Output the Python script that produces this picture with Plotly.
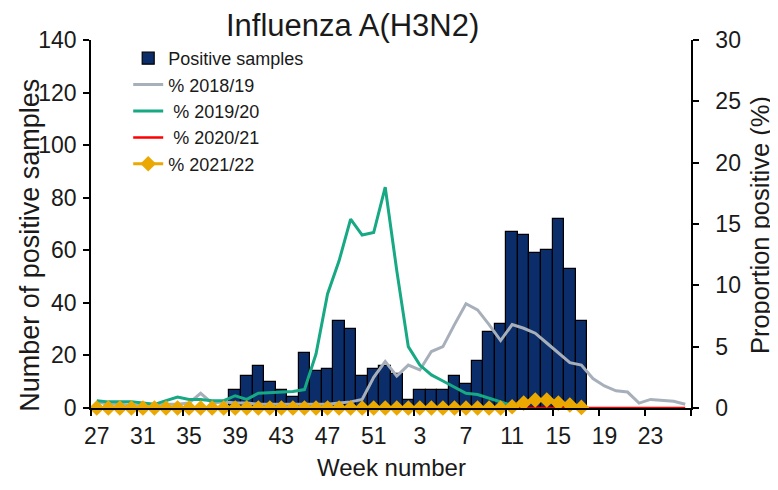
import plotly.graph_objects as go

# ---------------- data ----------------
weeks = list(range(27, 53)) + list(range(1, 27))
week_labels = [str(w) for w in weeks]

positive_samples = [0] * 12 + [
    7, 12, 16, 10, 7, 4, 21, 14, 15, 33, 30, 12, 15, 16,          # w39-w52
    13, 3, 7, 7, 7, 12, 9, 18, 29, 32, 67, 66, 59, 60, 72, 53, 33  # w1-w17
] + [None] * 9

pct_2018_19 = [
    0.5, 0.3, 0.3, 0.2, 0.2, 0.2, 0.3, 0.3, 0.4, 1.2, 0.4, 0.5, 0.4,
    0.4, 0.3, 0.3, 0.3, 0.3, 0.3, 0.3, 0.3, 0.4, 0.5, 0.7, 2.5, 3.8,
    2.6, 3.5, 3.1, 4.6, 5.0, 6.8, 8.5, 8.0, 6.8, 5.5, 6.8, 6.5, 6.1,
    5.3, 4.5, 3.7, 3.5, 2.4, 1.8, 1.4, 1.3, 0.4, 0.7, 0.6, 0.55, 0.3,
]

pct_2019_20 = [
    0.6, 0.5, 0.5, 0.5, 0.4, 0.3, 0.6, 0.9, 0.7, 0.7, 0.6, 0.6, 1.0,
    0.7, 1.2, 1.25, 1.3, 1.35, 1.5, 4.4, 9.3, 12.0, 15.4, 14.1, 14.3, 18.0,
    11.2, 5.0, 3.5, 2.7, 2.2, 1.7, 1.2, 1.1, 0.8, 0.5, 0.2,
] + [None] * 15

pct_2020_21 = [0.0] * 52

pct_2021_22 = [0.0] * 36 + [0.1, 0.4, 0.65, 0.65, 0.4, 0.25, 0.05] + [None] * 9

x_tick_step = 4
left_ticks = [0, 20, 40, 60, 80, 100, 120, 140]
right_ticks = [0, 5, 10, 15, 20, 25, 30]

# ---------------- figure ----------------
pos = list(range(len(weeks)))
FONT = "Liberation Sans, Arial, sans-serif"
TXT = "#1a1a1a"

fig = go.Figure()
fig.add_trace(go.Bar(
    x=pos, y=positive_samples, name="Positive samples",
    marker=dict(color="#0b2d69", line=dict(color="#000000", width=1.2)),
    yaxis="y",
))
fig.add_trace(go.Scatter(
    x=pos, y=pct_2018_19, name="% 2018/19", mode="lines",
    line=dict(color="#a7b0ba", width=3), yaxis="y2", cliponaxis=False,
))
fig.add_trace(go.Scatter(
    x=pos, y=pct_2019_20, name="\u00a0% 2019/20", mode="lines",
    line=dict(color="#17a884", width=3), yaxis="y2", cliponaxis=False,
))
fig.add_trace(go.Scatter(
    x=pos, y=pct_2020_21, name="\u00a0% 2020/21", mode="lines",
    line=dict(color="#ff0000", width=2.5), yaxis="y2", cliponaxis=False,
))
fig.add_trace(go.Scatter(
    x=pos, y=pct_2021_22, name="% 2021/22", mode="lines+markers",
    line=dict(color="#eaa800", width=3),
    marker=dict(symbol="diamond", size=12, color="#eaa800"),
    yaxis="y2", cliponaxis=False,
))

fig.update_layout(
    width=778, height=490,
    margin=dict(l=83, r=95, t=32, b=90),
    paper_bgcolor="white", plot_bgcolor="white",
    font=dict(family=FONT, color=TXT, size=23),
    bargap=0,
    showlegend=True,
    title=dict(text="Influenza A(H3N2)", x=0.443, xanchor="center",
               y=0.966, yanchor="middle", font=dict(size=31, family=FONT)),
    legend=dict(x=0.062, y=1.0, xanchor="left", yanchor="top",
                bgcolor="rgba(0,0,0,0)", font=dict(size=18, family=FONT),
                itemwidth=30, traceorder="normal"),
    xaxis=dict(
        range=[-0.5, len(weeks) - 0.5], automargin=False,
        tickmode="array", tickvals=pos[::x_tick_step],
        ticktext=week_labels[::x_tick_step],
        ticks="", showline=True, linecolor="black", linewidth=1.5,
        showgrid=False, zeroline=False,
        minor=dict(tickmode="linear", tick0=-0.5, dtick=x_tick_step,
                   ticks="outside", ticklen=6, tickcolor="black", tickwidth=1.5),
        tickfont=dict(size=23), ticklabelstandoff=7,
    ),
    yaxis=dict(
        range=[0, 140], tickmode="array", tickvals=left_ticks, automargin=False,
        ticks="outside", ticklen=6, tickcolor="black", tickwidth=1.5,
        showline=True, linecolor="black", linewidth=1.5,
        showgrid=False, zeroline=False, tickfont=dict(size=23),
        ticklabelstandoff=2,
    ),
    yaxis2=dict(
        range=[0, 30], tickmode="array", tickvals=right_ticks, automargin=False,
        overlaying="y", side="right", anchor="x",
        ticks="outside", ticklen=6, tickcolor="black", tickwidth=1.5,
        showline=True, linecolor="black", linewidth=1.5,
        showgrid=False, zeroline=False, tickfont=dict(size=23),
        ticklabelstandoff=12,
    ),
    annotations=[
        dict(text="Number of positive samples", xref="paper", yref="paper",
             x=-0.102, y=0.443, xanchor="center", yanchor="middle",
             textangle=-90, showarrow=False, font=dict(size=27, color=TXT)),
        dict(text="Proportion positive (%)", xref="paper", yref="paper",
             x=1.115, y=0.497, xanchor="center", yanchor="middle",
             textangle=-90, showarrow=False, font=dict(size=25.5, color=TXT)),
        dict(text="Week number", xref="paper", yref="paper",
             x=0.5, y=-0.163, xanchor="center", yanchor="middle",
             showarrow=False, font=dict(size=24, color=TXT)),
    ],
)

fig.write_html("out.html")
